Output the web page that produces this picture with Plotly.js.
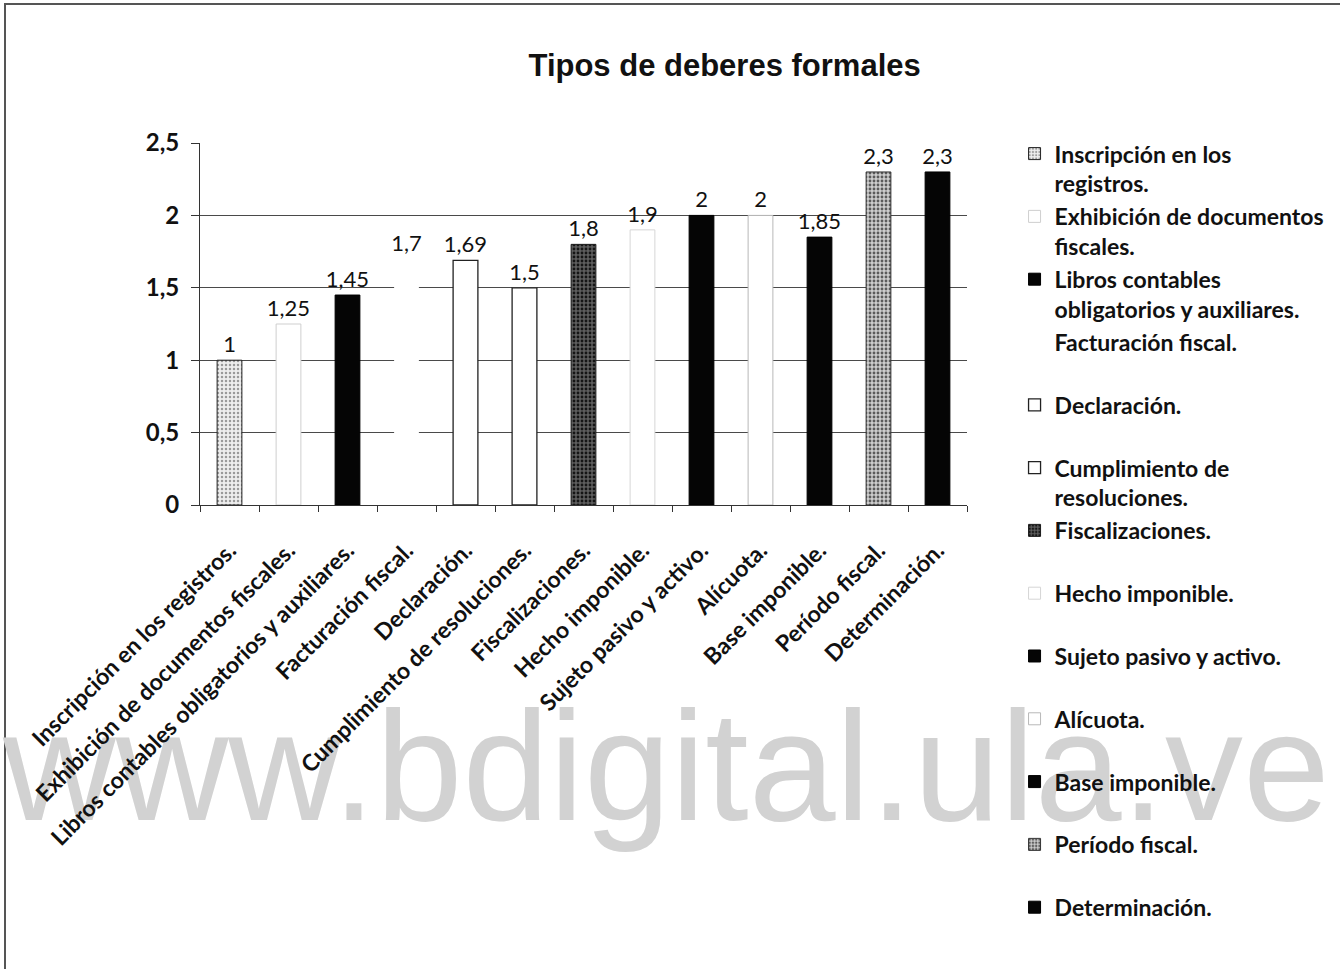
<!DOCTYPE html>
<html>
<head>
<meta charset="utf-8">
<script src="https://cdn.plot.ly/plotly-3.0.1.min.js"></script>
<style>
  html, body { margin: 0; padding: 0; background: #ffffff; }
  #wrap { position: relative; width: 1340px; height: 970px; overflow: hidden; background: #ffffff; }
  #frame { position: absolute; left: 4px; top: 3px; width: 1340px; height: 964px;
           border-top: 2px solid #555555; border-left: 2px solid #555555; z-index: 0; }
  #wm { position: absolute; left: 3px; top: 676px; font-family: "Liberation Sans", Arial, sans-serif;
        font-size: 156px; line-height: 180px; color: #d2d2d2; white-space: nowrap; z-index: 0; }
  #chart { position: absolute; left: 0; top: 0; width: 1340px; height: 970px; z-index: 1; }
</style>
</head>
<body>
<div id="wrap">
  <div id="frame"></div>
  <div id="wm">www.bdigital.ula.ve</div>
  <div id="chart"></div>
</div>
<script>
// ---- data ----
const categories = [
  "Inscripción en los registros.",
  "Exhibición de documentos fiscales.",
  "Libros contables obligatorios y auxiliares.",
  "Facturación fiscal.",
  "Declaración.",
  "Cumplimiento de resoluciones.",
  "Fiscalizaciones.",
  "Hecho imponible.",
  "Sujeto pasivo y activo.",
  "Alícuota.",
  "Base imponible.",
  "Período fiscal.",
  "Determinación."
];
const values = [1, 1.25, 1.45, 1.7, 1.69, 1.5, 1.8, 1.9, 2, 2, 1.85, 2.3, 2.3];
const legendNames = [
  "Inscripción en los<br>registros.",
  "Exhibición de documentos<br>fiscales.",
  "Libros contables<br>obligatorios y auxiliares.",
  "Facturación fiscal.<br>\u00A0",
  "Declaración.<br>\u00A0",
  "Cumplimiento de<br>resoluciones.",
  "Fiscalizaciones.<br>\u00A0",
  "Hecho imponible.<br>\u00A0",
  "Sujeto pasivo y activo.<br>\u00A0",
  "Alícuota.<br>\u00A0",
  "Base imponible.<br>\u00A0",
  "Período fiscal.<br>\u00A0",
  "Determinación.<br>\u00A0"
];
const yTicks = [0, 0.5, 1, 1.5, 2, 2.5];

// ---- styles per bar ----
const barStyles = [
  {fill: "#e6e6e6", line: "#222222", lw: 1, pattern: {shape: ".", fgcolor: "#9a9a9a", bgcolor: "#eeeeee", size: 4, solidity: 0.3}},
  {fill: "#ffffff", line: "#cfcfcf", lw: 1},
  {fill: "#050505", line: "#000000", lw: 1},
  {fill: "#ffffff", line: "rgba(255,255,255,0)", lw: 0},
  {fill: "#ffffff", line: "#222222", lw: 1.3},
  {fill: "#ffffff", line: "#222222", lw: 1.3},
  {fill: "#3a3a3a", line: "#1a1a1a", lw: 1, pattern: {shape: ".", fgcolor: "#151515", bgcolor: "#5e5e5e", size: 4, solidity: 0.4}},
  {fill: "#ffffff", line: "#d6d6d6", lw: 1},
  {fill: "#050505", line: "#000000", lw: 1},
  {fill: "#ffffff", line: "#b8b8b8", lw: 1},
  {fill: "#050505", line: "#000000", lw: 1},
  {fill: "#b8b8b8", line: "#333333", lw: 1, pattern: {shape: ".", fgcolor: "#5a5a5a", bgcolor: "#cdcdcd", size: 4, solidity: 0.4}},
  {fill: "#050505", line: "#000000", lw: 1}
];

const traces = categories.map((c, i) => {
  const st = barStyles[i];
  const marker = {color: st.fill, line: {color: st.line, width: st.lw}};
  if (st.pattern) marker.pattern = st.pattern;
  return {
    type: "bar",
    x: [c],
    y: [values[i]],
    name: legendNames[i],
    width: 0.42,
    marker: marker,
    text: [String(values[i]).replace(".", ",")],
    textposition: "outside",
    constraintext: "none",
    cliponaxis: false,
    textfont: {family: "Lato, sans-serif", size: 22, color: "#111111"},
    hoverinfo: "x+y"
  };
});

const layout = {
  width: 1340,
  height: 970,
  paper_bgcolor: "rgba(0,0,0,0)",
  plot_bgcolor: "rgba(0,0,0,0)",
  separators: ",.",
  barmode: "overlay",
  margin: {l: 200, r: 373, t: 143, b: 465, pad: 0, autoexpand: false},
  title: {
    text: "<b>Tipos de deberes formales</b>",
    font: {family: "Liberation Sans, Arial, sans-serif", size: 31, color: "#111111"},
    x: 0.684, xanchor: "center", xref: "paper",
    y: 0.933, yanchor: "middle"
  },
  xaxis: {
    type: "category",
    categoryorder: "array",
    categoryarray: categories,
    range: [-0.5, categories.length - 0.5],
    tickangle: -45,
    ticks: "outside",
    tickson: "boundaries",
    ticklen: 6,
    tickcolor: "#333333",
    ticklabelstandoff: 22,
    showline: true,
    linecolor: "#333333",
    linewidth: 1,
    showgrid: false,
    tickfont: {family: "Lato, sans-serif", size: 23, color: "#111111", weight: 700},
    fixedrange: true
  },
  yaxis: {
    range: [0, 2.5],
    tickvals: yTicks,
    ticks: "outside",
    ticklen: 8,
    tickcolor: "#333333",
    ticklabelstandoff: 7,
    showline: true,
    linecolor: "#333333",
    linewidth: 1,
    showgrid: true,
    gridcolor: "#4a4a4a",
    gridwidth: 1,
    zeroline: false,
    tickfont: {family: "Lato, sans-serif", size: 24, color: "#111111", weight: 700},
    fixedrange: true
  },
  showlegend: true,
  legend: {
    x: 1.062, xanchor: "left",
    y: 1.03, yanchor: "top",
    valign: "top",
    traceorder: "normal",
    maxheight: 900,
    bgcolor: "rgba(0,0,0,0)",
    borderwidth: 0,
    font: {family: "Lato, sans-serif", size: 23, color: "#111111", weight: 700},
    itemclick: false,
    itemdoubleclick: false
  }
};

Plotly.newPlot("chart", traces, layout, {displayModeBar: false, responsive: false});
</script>
</body>
</html>
